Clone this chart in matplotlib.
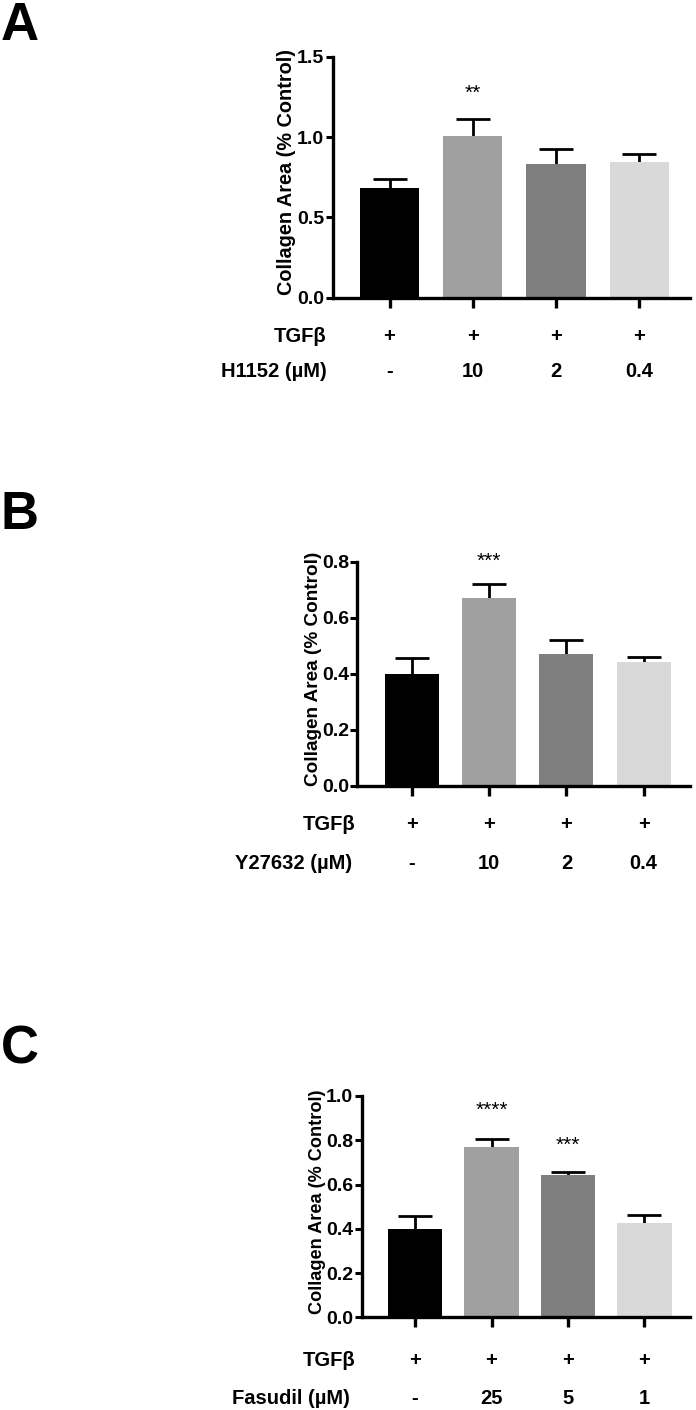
import matplotlib
matplotlib.use("Agg")
import matplotlib.pyplot as plt
import numpy as np
from matplotlib.transforms import blended_transform_factory, ScaledTranslation

plt.rcParams['font.family'] = ['Liberation Sans', 'DejaVu Sans']

W, H = 696, 1410
DPI = 100

# ---------------- data ----------------
bar_colors = ['#000000', '#a0a0a0', '#7f7f7f', '#d9d9d9']
tgf_row = ['+', '+', '+', '+']

a_means = [0.68, 1.006, 0.832, 0.846]
a_errs = [0.059, 0.108, 0.091, 0.050]
a_doses = ['-', '10', '2', '0.4']
a_drug = 'H1152 (µM)'
a_stars = ['', '**', '', '']
a_star_y = [0, 1.31, 0, 0]
a_yticks = [0.0, 0.5, 1.0, 1.5]

b_means = [0.400, 0.669, 0.470, 0.441]
b_errs = [0.057, 0.051, 0.051, 0.020]
b_doses = ['-', '10', '2', '0.4']
b_drug = 'Y27632 (µM)'
b_stars = ['', '***', '', '']
b_star_y = [0, 0.824, 0, 0]
b_yticks = [0.0, 0.2, 0.4, 0.6, 0.8]

c_means = [0.400, 0.771, 0.644, 0.427]
c_errs = [0.056, 0.033, 0.014, 0.035]
c_doses = ['-', '25', '5', '1']
c_drug = 'Fasudil (µM)'
c_stars = ['', '****', '***', '']
c_star_y = [0, 0.964, 0.804, 0]
c_yticks = [0.0, 0.2, 0.4, 0.6, 0.8, 1.0]

ylabel = 'Collagen Area (% Control)'

fig = plt.figure(figsize=(W / DPI, H / DPI), dpi=DPI)

ROW_FS = 14.5
TICK_FS = 14
STAR_FS = 15


def fx(px):
    return px / W


def fy(py):
    return 1 - py / H


def panel(letter, letter_top, rect_px, xlim, width, means, errs, doses, drug,
          stars, star_y, yticks, row_y, row_right, ylabel_x, ylabel_fs):
    l, r, t, b = rect_px
    ax = fig.add_axes([fx(l), fy(b), fx(r - l), (b - t) / H])
    x = np.arange(len(means))
    ax.errorbar(x, means, yerr=errs, fmt='none', ecolor='black',
                elinewidth=2.0, capsize=12, capthick=2.0, zorder=1)
    ax.bar(x, means, width=width, color=bar_colors, zorder=2)
    ax.set_xlim(*xlim)
    ax.set_ylim(0, yticks[-1])
    ax.set_yticks(yticks)
    ax.set_yticklabels([f'{v:.1f}' for v in yticks], fontsize=TICK_FS,
                       fontweight='bold')
    ax.set_xticks(x)
    ax.set_xticklabels([])
    for s in ['top', 'right']:
        ax.spines[s].set_visible(False)
    for s in ['left', 'bottom']:
        ax.spines[s].set_linewidth(2.4)
    ax.tick_params(axis='y', direction='out', length=5, width=2.2, pad=1)
    ax.tick_params(axis='x', direction='out', length=7, width=2.4)
    ax.patch.set_alpha(0)

    # significance stars
    off = ScaledTranslation(0, -11.5 / DPI, fig.dpi_scale_trans)
    for xi, s, sy in zip(x, stars, star_y):
        if s:
            ax.text(xi, sy, s, ha='center', va='baseline', fontsize=STAR_FS,
                    transform=ax.transData + off)

    # rows of conditions under the axis
    tr = blended_transform_factory(ax.transData, fig.transFigure)
    for xi, t1, t2 in zip(x, tgf_row, doses):
        ax.text(xi, fy(row_y[0]), t1, ha='center', va='center', fontsize=ROW_FS,
                fontweight='bold', transform=tr, clip_on=False)
        ax.text(xi, fy(row_y[1]), t2, ha='center', va='center', fontsize=ROW_FS,
                fontweight='bold', transform=tr, clip_on=False)
    fig.text(fx(row_right[0]), fy(row_y[0]), 'TGFβ', ha='right', va='center',
             fontsize=ROW_FS, fontweight='bold')
    fig.text(fx(row_right[1]), fy(row_y[1]), drug, ha='right', va='center',
             fontsize=ROW_FS, fontweight='bold')

    fig.text(fx(ylabel_x), fy((t + b) / 2 - 5), ylabel, rotation=90,
             ha='center', va='center', fontsize=ylabel_fs, fontweight='bold')

    fig.text(fx(1), fy(letter_top), letter, ha='left', va='top',
             fontsize=38, fontweight='bold')
    return ax


panel('A', 0.5, (332.7, 690, 56.7, 297.7), (-0.683, 3.61), 0.71,
      a_means, a_errs, a_doses, a_drug, a_stars, a_star_y, a_yticks,
      (336.7, 371.7), (326, 327), 286, 14.3)
panel('B', 490, (357.3, 690, 561.7, 785.7), (-0.709, 3.60), 0.70,
      b_means, b_errs, b_doses, b_drug, b_stars, b_star_y, b_yticks,
      (825, 863.3), (355, 352), 314, 13.7)
panel('C', 1025, (361.7, 690, 1096, 1317.3), (-0.697, 3.595), 0.71,
      c_means, c_errs, c_doses, c_drug, c_stars, c_star_y, c_yticks,
      (1360, 1398), (355, 350), 318, 13.1)

fig.savefig('out.png', dpi=DPI)
